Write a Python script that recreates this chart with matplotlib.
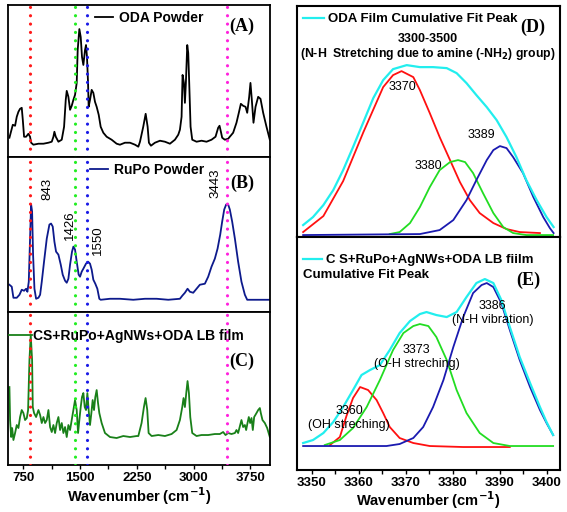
import numpy as np
import matplotlib
matplotlib.use("Agg")
from matplotlib import pyplot as plt
from matplotlib.ticker import MultipleLocator

plt.rcParams['font.family'] = ['Liberation Sans', 'DejaVu Sans']

# region Data
# left column: FTIR spectra (wavenumber in cm-1, intensity in a.u.)
oda_wn = [565, 610, 640, 662, 684, 706, 728, 742, 759, 786, 816, 838, 852, 882, 949, 1015, 1081, 1125,
          1147, 1160, 1178, 1213, 1257, 1288, 1310, 1323, 1345, 1367, 1389, 1411, 1433, 1455, 1468, 1490,
          1508, 1525, 1543, 1565, 1578, 1591, 1605, 1613, 1631, 1653, 1675, 1697, 1719, 1746, 1772, 1807,
          1851, 1917, 1983, 2027, 2093, 2160, 2226, 2270, 2292, 2335, 2367, 2393, 2410, 2437, 2490, 2556,
          2622, 2688, 2754, 2798, 2820, 2842, 2855, 2873, 2886, 2899, 2917, 2930, 2943, 2961, 2983, 3040,
          3106, 3172, 3238, 3291, 3326, 3344, 3362, 3379, 3414, 3458, 3524, 3568, 3599, 3626, 3657, 3688,
          3710, 3736, 3753, 3771, 3793, 3820, 3855, 3886, 3921, 3965, 4009]
oda_int = [19, 32, 31, 40, 45, 48, 49, 37, 20, 20, 23, 20, 14, 12, 13, 13, 14, 15,
           20, 25, 20, 15, 17, 30, 57, 66, 60, 47, 51, 57, 62, 74, 107, 128,
           120, 100, 92, 107, 112, 100, 74, 50, 57, 67, 64, 55, 50, 42, 30, 24,
           20, 17, 13, 12, 14, 14, 12, 10, 15, 30, 43, 30, 14, 11, 14, 16,
           15, 13, 17, 22, 27, 40, 82, 74, 54, 74, 112, 104, 74, 30, 17, 15,
           16, 15, 17, 20, 29, 31, 25, 19, 17, 18, 24, 34, 44, 53, 51, 50,
           44, 60, 74, 57, 34, 50, 60, 58, 44, 30, 17]

rupo_wn = [565, 596, 618, 662, 698, 728, 759, 786, 803, 821, 838, 852, 865, 878, 896, 918, 949, 971,
           993, 1023, 1059, 1094, 1116, 1138, 1160, 1182, 1213, 1244, 1270, 1301, 1323, 1345, 1367, 1393,
           1411, 1433, 1455, 1481, 1499, 1521, 1543, 1578, 1605, 1631, 1653, 1675, 1701, 1728, 1754, 1772,
           1895, 2027, 2203, 2358, 2512, 2666, 2820, 2851, 2886, 2921, 2952, 2996, 3040, 3084, 3150, 3194,
           3238, 3282, 3318, 3353, 3379, 3406, 3432, 3458, 3480, 3511, 3547, 3590, 3634, 3679, 3710, 3811,
           4009]
rupo_int = [27, 25, 14, 14, 17, 22, 21, 23, 20, 30, 73, 107, 100, 57, 23, 13, 14, 17,
            30, 50, 73, 87, 88, 85, 70, 60, 57, 47, 37, 31, 29, 33, 47, 60,
            65, 62, 50, 37, 35, 40, 43, 48, 50, 48, 42, 32, 28, 23, 13, 12,
            13, 13, 12, 13, 13, 12, 13, 16, 19, 23, 20, 19, 23, 27, 28, 35,
            45, 53, 63, 77, 90, 102, 107, 107, 102, 90, 73, 50, 30, 17, 12, 12,
            12]

film_wn = [565, 574, 588, 601, 618, 640, 662, 684, 706, 728, 750, 772, 795, 812, 830, 847, 865, 874,
           891, 918, 949, 971, 993, 1015, 1037, 1059, 1081, 1103, 1125, 1147, 1169, 1191, 1213, 1235,
           1257, 1279, 1301, 1323, 1345, 1367, 1389, 1411, 1433, 1455, 1473, 1490, 1508, 1525, 1543, 1561,
           1578, 1596, 1613, 1631, 1649, 1666, 1684, 1701, 1719, 1737, 1754, 1785, 1829, 1895, 1983, 2071,
           2160, 2248, 2270, 2313, 2344, 2366, 2388, 2406, 2446, 2534, 2622, 2710, 2776, 2820, 2851, 2868,
           2886, 2904, 2921, 2939, 2957, 2983, 3040, 3106, 3194, 3282, 3348, 3392, 3423, 3458, 3502, 3547,
           3568, 3590, 3617, 3634, 3656, 3679, 3696, 3714, 3731, 3749, 3767, 3784, 3802, 3833, 3855, 3877,
           3890, 3912, 3943, 3974, 4009]
film_int = [78, 45, 28, 37, 25, 32, 40, 37, 48, 55, 52, 45, 47, 55, 105, 130, 105, 58,
            52, 48, 55, 50, 42, 48, 42, 45, 55, 38, 33, 40, 32, 42, 48, 35,
            42, 32, 38, 28, 40, 35, 45, 55, 65, 55, 32, 45, 58, 68, 72, 58,
            55, 72, 55, 40, 52, 65, 55, 68, 75, 62, 52, 42, 32, 28, 27, 29,
            28, 29, 29, 42, 58, 67, 55, 32, 29, 30, 29, 31, 35, 45, 58, 67,
            58, 72, 84, 72, 48, 32, 29, 30, 30, 31, 31, 33, 30, 32, 31, 32,
            35, 32, 40, 45, 38, 40, 35, 42, 48, 42, 47, 35, 48, 52, 55, 57,
            52, 45, 42, 37, 28]

marker_lines = [843, 1426, 1595, 3443]
marker_colors = ['#ff1a1a', '#22ee22', '#1a1ae6', '#ff22dd']
rupo_peaks = ['843', '1426', '1550', '3443']
rupo_peak_xy = [(1063, 123), (1367, 86), (1741, 71), (3286, 128)]

# right column: fitted peaks (wavenumber in cm-1, intensity in a.u.)
d_cum_wn = [3348.2, 3350.3, 3352.5, 3354.6, 3356.7, 3358.8, 3361.0, 3363.1, 3365.2, 3367.3, 3370.2, 3373.0,
            3375.8, 3378.7, 3380.8, 3382.9, 3385.0, 3387.2, 3389.3, 3391.4, 3393.5, 3395.6, 3397.8, 3399.9,
            3401.4]
d_cum_int = [12, 20, 32, 47, 67, 90, 115, 139, 157, 168, 172, 170,
             170, 169, 164, 154, 142, 130, 117, 100, 80, 57, 37, 20,
             10]
d_red_wn = [3348.2, 3352.5, 3356.7, 3361.0, 3365.2, 3367.3, 3369.1, 3371.6, 3373.0, 3375.1, 3377.2, 3379.4,
            3381.5, 3383.6, 3385.7, 3388.6, 3391.4, 3394.2, 3398.5]
d_red_int = [5, 21, 56, 105, 150, 162, 166, 160, 147, 124, 100, 77,
             55, 37, 24, 14, 8, 5, 4]
d_green_wn = [3366.6, 3368.7, 3370.9, 3373.0, 3375.1, 3377.2, 3379.4, 3381.1, 3382.6, 3384.3, 3386.4, 3388.6,
              3390.7, 3392.8, 3395.6, 3401.3]
d_green_int = [3, 5, 14, 30, 50, 67, 75, 77, 75, 64, 44, 24,
               10, 4, 2, 2]
d_blue_wn = [3348.2, 3373.0, 3377.2, 3380.1, 3382.9, 3385.0, 3387.2, 3388.6, 3390.0, 3391.4, 3392.8, 3394.9,
             3397.1, 3399.2, 3400.6, 3401.4]
d_blue_int = [2, 3, 7, 17, 37, 57, 77, 87, 91, 89, 80, 64,
              40, 20, 9, 4]
d_labels = ['3370', '3380', '3389']
d_label_xy = [(3369.2, 150), (3374.8, 71), (3386.1, 102)]

e_cum_wn = [3348.2, 3350.3, 3352.5, 3354.6, 3356.7, 3358.8, 3360.6, 3362.4, 3364.5, 3366.6, 3368.7, 3370.9,
            3373.0, 3374.4, 3376.5, 3378.7, 3380.8, 3382.9, 3385.0, 3386.8, 3388.6, 3390.3, 3392.1, 3394.2,
            3396.4, 3398.5, 3399.9, 3401.3]
e_cum_int = [27, 30, 37, 48, 63, 80, 95, 100, 105, 120, 137, 149,
             156, 158, 155, 153, 158, 173, 187, 191, 187, 170, 143, 113,
             87, 63, 48, 35]
e_red_wn = [3353.9, 3356.0, 3357.4, 3358.8, 3360.3, 3362.0, 3363.8, 3365.2, 3366.6, 3368.7, 3371.6, 3375.1,
            3382.2, 3392.1]
e_red_int = [25, 33, 54, 72, 83, 80, 70, 57, 43, 32, 27, 24,
             23, 23]
e_green_wn = [3352.8, 3356.0, 3358.8, 3361.7, 3364.5, 3367.3, 3369.5, 3371.6, 3373.0, 3374.8, 3376.5, 3378.7,
              3380.8, 3382.9, 3385.7, 3388.6, 3392.1, 3401.3]
e_green_int = [25, 30, 42, 63, 90, 120, 137, 144, 146, 144, 133, 110,
               80, 57, 37, 27, 24, 24]
e_blue_wn = [3348.2, 3365.9, 3368.7, 3371.6, 3373.7, 3375.8, 3378.0, 3380.1, 3382.2, 3384.3, 3386.1, 3387.2,
             3388.6, 3390.3, 3392.1, 3394.2, 3396.4, 3398.5, 3399.9, 3401.3]
e_blue_int = [24, 24, 26, 32, 43, 63, 90, 123, 153, 177, 185, 187,
              183, 167, 140, 110, 83, 60, 47, 35]
e_labels = ['3360\n(OH streching)', '3373\n(O-H streching)', '3386\n(N-H vibration)']
e_label_xy = [(3358.0, 52), (3372.3, 113), (3388.5, 157)]
# endregion

fig = plt.figure(figsize=(5.67, 5.12), dpi=100)

left_axes = [fig.add_axes([0.0146, 0.694, 0.4614, 0.296]),
             fig.add_axes([0.0146, 0.391, 0.4614, 0.303]),
             fig.add_axes([0.0146, 0.0918, 0.4614, 0.2992])]
ax_d = fig.add_axes([0.523, 0.537, 0.465, 0.451])
ax_e = fig.add_axes([0.523, 0.082, 0.465, 0.455])

spectra = [(oda_wn, oda_int, 'black', 'ODA Powder', 152, '(A)', (0.331, 0.914), 0.862),
           (rupo_wn, rupo_int, '#0d1a8c', 'RuPo Powder', 154.7, '(B)', (0.312, 0.916), 0.829),
           (film_wn, film_int, '#198019', 'CS+RuPo+AgNWs+ODA LB film', 153.3, '(C)', (0.004, 0.841), 0.674)]

for ax, (wn, inten, color, name, top, tag, leg_xy, tag_y) in zip(left_axes, spectra):
    ax.plot(wn, inten, color=color, lw=1.3, label=name, zorder=2)
    for pos, mc in zip(marker_lines, marker_colors):
        ax.axvline(pos, color=mc, lw=2.3, linestyle=(0, (0.01, 2.6)), dash_capstyle='round', zorder=3)
    ax.set_xlim(550, 4010)
    ax.set_ylim(0, top)
    ax.set_yticks([])
    for sp in ax.spines.values():
        sp.set_linewidth(1.3)
    hl = 1.6 if tag == '(C)' else 1.3
    tp = 0.1 if tag == '(C)' else 0.45
    ax.legend(loc='center left', bbox_to_anchor=leg_xy, borderpad=0, borderaxespad=0, frameon=False,
              handlelength=hl, handletextpad=tp, prop={'weight': 'bold', 'size': 10})
    ax.text(0.893, tag_y, tag, transform=ax.transAxes, ha='center', va='center',
            fontsize=13, fontweight='bold', family='Liberation Serif')

for ax in left_axes[:2]:
    ax.set_xticks([])

ax_c = left_axes[2]
ax_c.set_xticks([750, 1500, 2250, 3000, 3750])
ax_c.xaxis.set_minor_locator(MultipleLocator(375))
ax_c.tick_params(axis='x', which='both', direction='out', length=3, width=1, labelsize=9.5, pad=2)
for lbl in ax_c.get_xticklabels():
    lbl.set_fontweight('bold')
ax_c.set_xlabel('Wavenumber (cm$^{\\mathbf{-1}}$)', fontsize=10.5, fontweight='bold', labelpad=1)

for txt, (x, y) in zip(rupo_peaks, rupo_peak_xy):
    left_axes[1].text(x, y, txt, rotation=90, ha='center', va='center', fontsize=9.5)

# right column: fitted peaks
ax_d.plot(d_red_wn, d_red_int, color='#ff1010', lw=1.3)
ax_d.plot(d_green_wn, d_green_int, color='#22dd22', lw=1.3)
ax_d.plot(d_blue_wn, d_blue_int, color='#1a1ab0', lw=1.3)
ax_d.plot(d_cum_wn, d_cum_int, color='#22eeee', lw=1.6, label='ODA Film Cumulative Fit Peak')
ax_d.set_ylim(0, 231)
for txt, (x, y) in zip(d_labels, d_label_xy):
    ax_d.text(x, y, txt, ha='center', va='center', fontsize=9)
ax_d.legend(loc='center left', bbox_to_anchor=(0.025, 0.943), borderpad=0, borderaxespad=0, frameon=False,
            handlelength=1.6, handletextpad=0.3, prop={'weight': 'bold', 'size': 9.5})
ax_d.text(0.498, 0.857, '3300-3500', transform=ax_d.transAxes, ha='center', va='center',
          fontsize=9, fontweight='bold')
ax_d.text(0.498, 0.792, '(N-H  Stretching due to amine (-NH$_\\mathbf{2}$) group)', transform=ax_d.transAxes,
          ha='center', va='center', fontsize=8.8, fontweight='bold')
ax_d.text(0.895, 0.909, '(D)', transform=ax_d.transAxes, ha='center', va='center',
          fontsize=13, fontweight='bold', family='Liberation Serif')

ax_e.plot(e_red_wn, e_red_int, color='#ff1010', lw=1.3)
ax_e.plot(e_green_wn, e_green_int, color='#22dd22', lw=1.3)
ax_e.plot(e_blue_wn, e_blue_int, color='#1a1ab0', lw=1.3)
ax_e.plot(e_cum_wn, e_cum_int, color='#22eeee', lw=1.6, label='C S+RuPo+AgNWs+ODA LB fiilm')
ax_e.set_ylim(0, 233)
for txt, (x, y) in zip(e_labels, e_label_xy):
    ax_e.text(x, y, txt, ha='center', va='center', fontsize=9, linespacing=1.2)
ax_e.legend(loc='center left', bbox_to_anchor=(0.025, 0.901), borderpad=0, borderaxespad=0, frameon=False,
            handlelength=1.4, handletextpad=0.3, prop={'weight': 'bold', 'size': 9.5})
ax_e.text(0.025, 0.837, 'Cumulative Fit Peak', transform=ax_e.transAxes, ha='left', va='center',
          fontsize=9.5, fontweight='bold')
ax_e.text(0.88, 0.815, '(E)', transform=ax_e.transAxes, ha='center', va='center',
          fontsize=13, fontweight='bold', family='Liberation Serif')

for ax in (ax_d, ax_e):
    ax.set_xlim(3346.8, 3402.8)
    ax.set_yticks([])
    for sp in ax.spines.values():
        sp.set_linewidth(1.5)

ax_d.set_xticks([])
ax_e.set_xticks([3350, 3360, 3370, 3380, 3390, 3400])
ax_e.xaxis.set_minor_locator(MultipleLocator(5))
ax_e.tick_params(axis='x', which='both', direction='out', length=3, width=1, labelsize=9.5, pad=2)
for lbl in ax_e.get_xticklabels():
    lbl.set_fontweight('bold')
ax_e.set_xlabel('Wavenumber (cm$^{\\mathbf{-1}}$)', fontsize=10.5, fontweight='bold', labelpad=0)

fig.savefig('out.png', dpi=100)
